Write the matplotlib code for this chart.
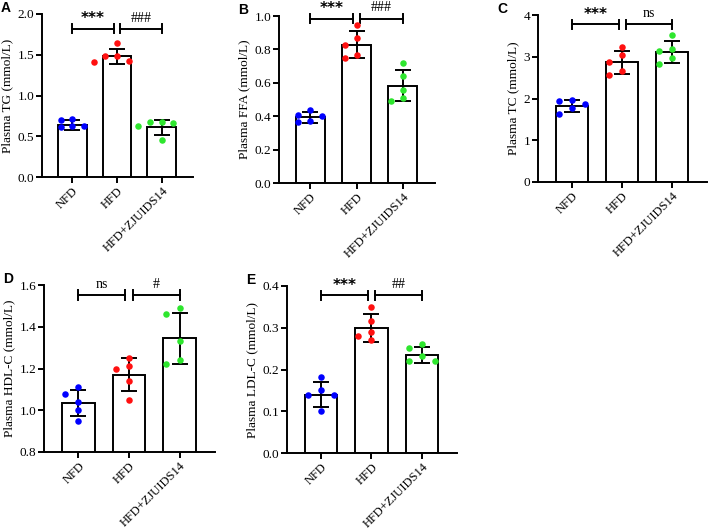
import numpy as np
import matplotlib.pyplot as plt
from matplotlib import transforms

plt.rcParams['font.family'] = ['Liberation Serif', 'DejaVu Serif']

groups = ["NFD", "HFD", "HFD+ZJUIDS14"]
dot_colors = ["#0000ff", "#ff1010", "#2ee62e"]

# A - plasma TG
tg_points = [[0.70, 0.71, 0.62, 0.61, 0.62],
             [1.64, 1.49, 1.48, 1.41, 1.42],
             [0.66, 0.68, 0.68, 0.62, 0.46]]
tg_mean = [0.64, 1.48, 0.61]
tg_sd = [0.06, 0.09, 0.095]

# B - plasma FFA
ffa_points = [[0.41, 0.40, 0.44, 0.365, 0.37],
              [0.946, 0.866, 0.826, 0.748, 0.766],
              [0.716, 0.639, 0.557, 0.493, 0.511]]
ffa_mean = [0.393, 0.828, 0.583]
ffa_sd = [0.033, 0.08, 0.093]

# C - plasma TC
tc_points = [[1.93, 1.97, 1.87, 1.78, 1.62],
             [3.24, 3.04, 2.88, 2.56, 2.66],
             [3.52, 3.19, 3.14, 2.96, 2.82]]
tc_mean = [1.82, 2.87, 3.12]
tc_sd = [0.145, 0.275, 0.265]

# D - plasma HDL-C
hdl_points = [[1.08, 1.11, 1.04, 1.00, 0.95],
              [1.20, 1.25, 1.21, 1.14, 1.05],
              [1.49, 1.46, 1.33, 1.22, 1.24]]
hdl_mean = [1.035, 1.17, 1.345]
hdl_sd = [0.063, 0.078, 0.122]

# E - plasma LDL-C
ldl_points = [[0.181, 0.151, 0.14, 0.14, 0.101],
              [0.35, 0.315, 0.29, 0.27, 0.281],
              [0.261, 0.251, 0.232, 0.221, 0.221]]
ldl_mean = [0.14, 0.30, 0.235]
ldl_sd = [0.03, 0.033, 0.019]

W, H = 708, 528
fig = plt.figure(figsize=(W / 100, H / 100), dpi=100)


def px_axes(left, right, top, bottom):
    return fig.add_axes([left / W, 1 - bottom / H, (right - left) / W, (bottom - top) / H])


def swarm_offsets(vals, px_per_unit, step=0.26, min_px=7.0):
    # dot-plot style: stack points side by side when they would overlap
    vals = np.asarray(vals)
    offs = np.zeros(len(vals))
    placed = []
    for i in np.argsort(vals)[::-1]:
        for k in [0, -1, 1, -2, 2]:
            if all(kk != k or abs(vals[i] - v) * px_per_unit > min_px for v, kk in placed):
                placed.append((vals[i], k))
                offs[i] = k * step
                break
    return offs


def panel(ax, letter, points, means, sds, ylim, yticks, fmt, ylabel, sig, frac):
    x = np.arange(len(groups))
    ax.bar(x, means, width=0.64, color="white", edgecolor="black", linewidth=1.4, zorder=2)
    ax.errorbar(x, means, yerr=sds, fmt="none", ecolor="black", elinewidth=1.4,
                capsize=6, capthick=1.4, zorder=3)
    ax.set_ylim(*ylim)
    ax.set_xlim(-0.68, 2.7)
    bb = ax.get_position()
    px_unit = bb.height * H / (ylim[1] - ylim[0])
    for i, pts in enumerate(points):
        offs = swarm_offsets(pts, px_unit)
        ax.scatter(x[i] + offs, pts, s=22, color=dot_colors[i], zorder=4,
                   linewidths=0, clip_on=False)
    ax.set_yticks(yticks)
    ax.set_yticklabels([fmt.format(t) for t in yticks], fontsize=9.5)
    ax.set_xticks(x)
    ax.set_xticklabels(groups, rotation=45, ha="right", rotation_mode="anchor", fontsize=9)
    ax.set_ylabel(ylabel, fontsize=9.5, labelpad=3)
    for s in ["top", "right"]:
        ax.spines[s].set_visible(False)
    for s in ["left", "bottom"]:
        ax.spines[s].set_linewidth(1.4)
    ax.tick_params(direction="out", length=4, width=1.4, pad=1.5)

    # significance brackets
    tr = transforms.blended_transform_factory(ax.transData, ax.transAxes)
    g = 0.07
    for (x0, x1), lab in zip([(0, 1 - g), (1 + g, 2)], sig):
        ax.plot([x0, x1], [frac, frac], color="black", lw=1.4, transform=tr, clip_on=False)
        for xe in (x0, x1):
            ax.plot([xe, xe], [frac - 0.028, frac + 0.028], color="black", lw=1.4,
                    transform=tr, clip_on=False)
        if lab.startswith("*"):
            ax.text((x0 + x1) / 2, frac + 0.015, lab, transform=tr, ha="center", va="bottom",
                    fontsize=11, fontweight="bold", family="DejaVu Sans")
        else:
            ax.text((x0 + x1) / 2, frac + 0.025, lab, transform=tr, ha="center", va="bottom",
                    fontsize=10)
    fig.text(bb.x0 - 36 / W, bb.y1 + 6 / H, letter, fontsize=10, fontweight="bold",
             family="Liberation Sans", ha="center", va="center")


axA = px_axes(42, 193, 14, 177)
panel(axA, "A", tg_points, tg_mean, tg_sd, (0, 2.0), [0, 0.5, 1.0, 1.5, 2.0], "{:.1f}",
      "Plasma TG (mmol/L)", ["***", "###"], 0.91)

axB = px_axes(279, 435, 16, 183)
panel(axB, "B", ffa_points, ffa_mean, ffa_sd, (0, 1.0), [0, 0.2, 0.4, 0.6, 0.8, 1.0], "{:.1f}",
      "Plasma FFA (mmol/L)", ["***", "###"], 0.985)

axC = px_axes(538, 707, 15, 182)
panel(axC, "C", tc_points, tc_mean, tc_sd, (0, 4), [0, 1, 2, 3, 4], "{:.0f}",
      "Plasma TC (mmol/L)", ["***", "ns"], 0.945)

axD = px_axes(44, 215, 285, 452)
panel(axD, "D", hdl_points, hdl_mean, hdl_sd, (0.8, 1.6), [0.8, 1.0, 1.2, 1.4, 1.6], "{:.1f}",
      "Plasma HDL-C (mmol/L)", ["ns", "#"], 0.94)

axE = px_axes(287, 457, 286, 453)
panel(axE, "E", ldl_points, ldl_mean, ldl_sd, (0, 0.4), [0, 0.1, 0.2, 0.3, 0.4], "{:.1f}",
      "Plasma LDL-C (mmol/L)", ["***", "##"], 0.945)

fig.savefig("out.png", dpi=100, facecolor="white")
